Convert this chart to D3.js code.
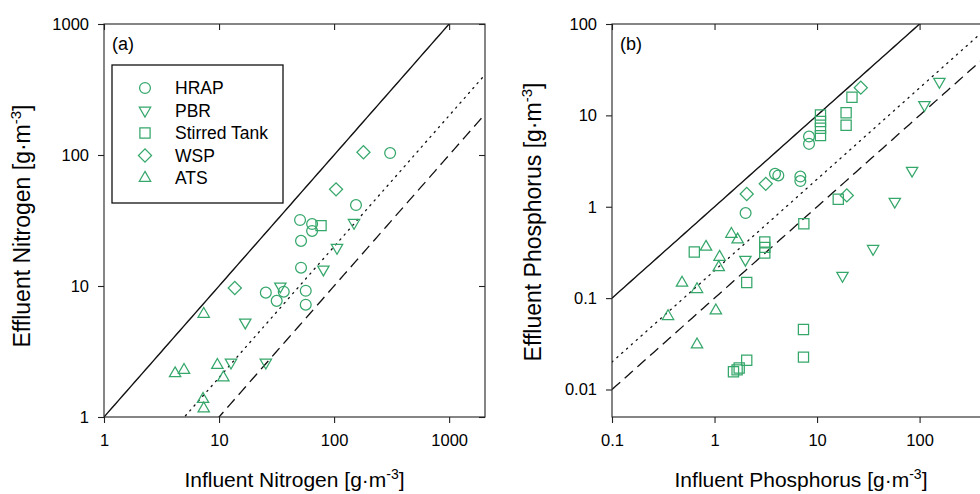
<!DOCTYPE html>
<html><head><meta charset="utf-8">
<script src="https://cdn.jsdelivr.net/npm/d3@7"></script>
<style>
body{margin:0;background:#fff}
svg{display:block}
text{font-family:"Liberation Sans",Arial,Helvetica,sans-serif;fill:#000}
</style>
</head><body>
<svg id="c" width="980" height="494"></svg>
<script>
// ---------- data ----------
const seriesNames = ["HRAP","PBR","Stirred Tank","WSP","ATS"];
// Nitrogen panel (a): [influent, effluent]
const nHRAP = [[307,103.5],[155,41.5],[50.6,31.9],[64.4,29.7],[64.4,26.3],[51.6,22.1],[51.6,13.8],[25.5,8.9],[31.7,7.7],[36.5,9.05],[56.7,9.2],[56.7,7.2]];
const nPBR  = [[149,30.4],[106,19.6],[80.7,13.4],[34.1,9.95],[16.9,5.28],[12.7,2.61],[25.5,2.61]];
const nST   = [[77,28.9]];
const nWSP  = [[180,105],[104,54.7],[13.7,9.65]];
const nATS  = [[7.36,6.11],[4.15,2.15],[4.96,2.28],[9.67,2.49],[10.9,2.0],[7.26,1.37],[7.36,1.16]];
// Phosphorus panel (b)
const pHRAP = [[8.35,5.87],[8.35,4.88],[3.89,2.29],[4.19,2.2],[6.87,2.14],[6.87,1.91],[2.01,0.853]];
const pPBR  = [[156,23.4],[111.5,13.0],[84.5,2.49],[57.3,1.14],[35.2,0.347],[17.7,0.176],[2.0,0.264]];
const pST   = [[10.8,10.1],[10.8,8.57],[10.8,7.24],[10.8,6.0],[21.9,15.8],[19.2,10.7],[19.2,7.8],[16.1,1.21],[7.43,0.652],[0.635,0.32],[3.09,0.411],[3.09,0.359],[3.09,0.312],[2.06,0.148],[7.37,0.0453],[7.37,0.0226],[2.06,0.0209],[1.74,0.0172],[1.66,0.0164],[1.53,0.0156]];
const pWSP  = [[26.7,20.1],[2.06,1.38],[3.16,1.78],[19.5,1.33]];
const pATS  = [[1.46,0.503],[1.68,0.436],[0.826,0.363],[1.12,0.282],[1.1,0.217],[0.482,0.147],[0.675,0.125],[0.352,0.0633],[1.03,0.073],[0.675,0.031]];
// tick values
const ticksNx = [1,10,100,1000];
const ticksNy = [1,10,100,1000];
const ticksPx = [0.1,1,10,100];
const ticksPy = [0.01,0.1,1,10,100];
// reference lines y = x / ratio
const lineRatios = [1,5,10];
const lineDash = ["none","1.3,5.2","11,6"];

// ---------- drawing ----------
const svg = d3.select("#c");
const green = "#35a76b";
const fmt = d3.format("~g");

const symbols = {
  "HRAP": {type:d3.symbolCircle,size:92,rot:0},
  "PBR": {type:d3.symbolTriangle,size:56,rot:180},
  "Stirred Tank": {type:d3.symbolSquare,size:104,rot:0},
  "WSP": {type:d3.symbolSquare,size:86,rot:45},
  "ATS": {type:d3.symbolTriangle,size:56,rot:0}
};

function panel(cfg){
  const x = d3.scaleLog().domain(cfg.xd).range(cfg.xr);
  const y = d3.scaleLog().domain(cfg.yd).range(cfg.yr);
  const g = svg.append("g");
  const id = "clip"+cfg.name;
  svg.append("clipPath").attr("id",id).append("rect")
    .attr("x",cfg.xr[0]).attr("y",cfg.yr[1]).attr("width",cfg.xr[1]-cfg.xr[0]).attr("height",cfg.yr[0]-cfg.yr[1]);

  // reference lines
  const xs = d3.range(0,101).map(i=>Math.pow(10, Math.log10(cfg.xd[0]) + i/100*(Math.log10(cfg.xd[1])-Math.log10(cfg.xd[0]))));
  lineRatios.forEach((r,i)=>{
    g.append("path").attr("clip-path","url(#"+id+")")
      .attr("d", d3.line().x(d=>x(d)).y(d=>y(d/r))(xs))
      .attr("fill","none").attr("stroke","#111").attr("stroke-width",i===0?1.4:1.3)
      .attr("stroke-dasharray",lineDash[i]).attr("stroke-linecap",i===1?"round":"butt");
  });

  // axes
  const ax = g.append("g").attr("transform",`translate(0,${cfg.yr[0]})`)
    .call(d3.axisBottom(x).tickValues(cfg.tx).tickFormat(fmt).tickSize(6).tickPadding(11));
  const ay = g.append("g").attr("transform",`translate(${cfg.xr[0]},0)`)
    .call(d3.axisLeft(y).tickValues(cfg.ty).tickFormat(fmt).tickSize(6).tickPadding(9));
  const at = g.append("g").attr("transform",`translate(0,${cfg.yr[1]})`)
    .call(d3.axisTop(x).tickValues(cfg.tx).tickFormat("").tickSize(-6));
  const ar = g.append("g").attr("transform",`translate(${cfg.xr[1]},0)`)
    .call(d3.axisRight(y).tickValues(cfg.ty).tickFormat("").tickSize(-6));
  [ax,ay,at,ar].forEach(a=>{
    a.select(".domain").remove();
    a.selectAll("line").attr("stroke","#222").attr("stroke-width",1.1);
    a.selectAll("text").style("font-size","16.5px").style("font-family","'Liberation Sans',Arial,sans-serif").attr("fill","#000");
  });
  // frame
  g.append("rect").attr("x",cfg.xr[0]).attr("y",cfg.yr[1])
    .attr("width",cfg.xr[1]-cfg.xr[0]).attr("height",cfg.yr[0]-cfg.yr[1])
    .attr("fill","none").attr("stroke","#222").attr("stroke-width",1.1);

  // points
  cfg.data.forEach(([name,arr])=>{
    const s = symbols[name];
    g.append("g").attr("clip-path","url(#"+id+")").selectAll("path").data(arr).join("path")
      .attr("d", d3.symbol().type(s.type).size(s.size)())
      .attr("transform",d=>`translate(${x(d[0])},${y(d[1])}) rotate(${s.rot})`)
      .attr("fill","none").attr("stroke",green).attr("stroke-width",1.25);
  });

  // panel label
  g.append("text").attr("x",cfg.xr[0]+8).attr("y",cfg.yr[1]+26).style("font-size","18px").text(cfg.label);

  // x title
  const xt = g.append("text").attr("x",(cfg.xr[0]+Math.min(cfg.xr[1],980))/2 + cfg.xtOff).attr("y",487)
    .attr("text-anchor","middle").style("font-size","21px");
  xt.append("tspan").text(cfg.xtitle+" [g·m");
  xt.append("tspan").attr("dy",-8).style("font-size","14px").text("-3");
  xt.append("tspan").attr("dy",8).text("]");

  // y title
  const yt = g.append("text").attr("transform",`translate(${cfg.ytx},${cfg.ytc}) rotate(-90)`)
    .attr("text-anchor","middle").style("font-size","23px");
  yt.append("tspan").text(cfg.ytitle+" [g·m");
  yt.append("tspan").attr("dy",-9).style("font-size","15px").text("-3");
  yt.append("tspan").attr("dy",9).text("]");
  return {x,y,g};
}

const pa = panel({name:"a", xd:[1,2050], xr:[104,485], yd:[1,1000], yr:[417,24],
  tx:ticksNx, ty:ticksNy, label:"(a)", xtitle:"Influent Nitrogen", ytitle:"Effluent Nitrogen",
  ytx:30, ytc:226, xtOff:0,
  data:[["HRAP",nHRAP],["PBR",nPBR],["Stirred Tank",nST],["WSP",nWSP],["ATS",nATS]]});

const pb = panel({name:"b", xd:[0.1,520], xr:[612,993], yd:[0.005,100], yr:[417,24],
  tx:ticksPx, ty:ticksPy, label:"(b)", xtitle:"Influent Phosphorus", ytitle:"Effluent Phosphorus",
  ytx:541, ytc:222, xtOff:5,
  data:[["HRAP",pHRAP],["PBR",pPBR],["Stirred Tank",pST],["WSP",pWSP],["ATS",pATS]]});

// legend
const lg = svg.append("g");
lg.append("rect").attr("x",112).attr("y",65).attr("width",171).attr("height",138)
  .attr("fill","#fff").attr("stroke","#111").attr("stroke-width",1.3);
const ly = d3.scalePoint().domain(seriesNames).range([88,178]);
seriesNames.forEach(n=>{
  const s = symbols[n];
  lg.append("path").attr("d",d3.symbol().type(s.type).size(s.size)())
    .attr("transform",`translate(145,${ly(n)}) rotate(${s.rot})`)
    .attr("fill","none").attr("stroke",green).attr("stroke-width",1.25);
  lg.append("text").attr("x",175).attr("y",ly(n)).attr("dy","0.36em").style("font-size","17.5px").text(n);
});
</script>
</body></html>
